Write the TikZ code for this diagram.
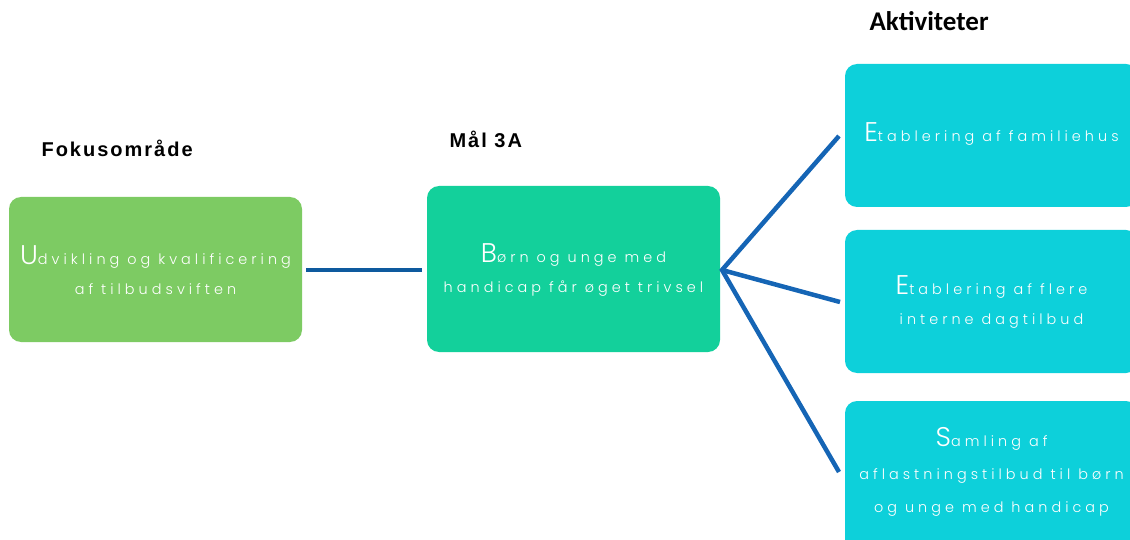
\documentclass[tikz,border=0pt]{standalone}
\usepackage{fontspec}
\setmainfont{Liberation Sans}
\newfontfamily\boxfont{Poppins Light}[LetterSpace=28]
\newfontfamily\headfont{Liberation Sans}[LetterSpace=10]
\newfontfamily\calfont{Carlito}
\definecolor{greenbox}{HTML}{7DCB63}
\definecolor{midbox}{HTML}{13D09B}
\definecolor{cyanbox}{HTML}{0DD0DA}
\definecolor{linecol}{HTML}{1565B5}
\definecolor{linedark}{HTML}{0E5A9E}
\newcommand{\bigfirst}[1]{{\fontsize{27}{27}\selectfont #1}}
\tikzset{
  box/.style={rounded corners=12pt, inner sep=0pt},
  boxtext/.style={text=white, align=center, font=\boxfont\fontsize{14.4}{30}\selectfont},
  head/.style={anchor=base west, font=\headfont\bfseries\fontsize{20}{22}\selectfont},
  conn/.style={line width=4.5pt, color=linecol},
}
\begin{document}
\begin{tikzpicture}[x=1pt,y=-1pt]
\useasboundingbox (0,0) rectangle (1130,540);
\clip (0,0) rectangle (1130,540);
% boxes
\fill[greenbox, box] (9,197) rectangle (302,342);
\fill[midbox, box] (427,186) rectangle (720,352);
\fill[cyanbox, box] (845,64) rectangle (1138,207);
\fill[cyanbox, box] (845,230) rectangle (1138,373);
\fill[cyanbox, box] (845,401) rectangle (1138,552);
% box texts
\node[boxtext] (foc) at (155.5,270) {\bigfirst{U}dvikling og kvalificering\\af tilbudsviften};
\node[boxtext] (mal) at (573.5,270) {\bigfirst{B}ørn og unge med\\handicap får øget trivsel};
\node[boxtext] (a1) at (991.5,134) {\bigfirst{E}tablering af familiehus};
\node[boxtext] (a2) at (991.5,302) {\bigfirst{E}tablering af flere\\interne dagtilbud};
\node[boxtext, font=\boxfont\fontsize{14.4}{33}\selectfont] (a3) at (991.5,472) {\bigfirst{S}amling af\\aflastningstilbud til børn\\og unge med handicap};
% headings
\node[head] (h1) at (38,157) {Fokusområde};
\node[head] (h2) at (446,148) {Mål 3A};
\node[anchor=base west, font=\calfont\bfseries\fontsize{27}{30}\selectfont] (h3) at (866,31) {Aktiviteter};
% connectors
\coordinate (l1) at (306,270);
\coordinate (l2) at (422,270);
\coordinate (apex) at (722,270);
\coordinate (e1) at (839,136);
\coordinate (e2) at (840,302);
\coordinate (e3) at (839,472);
\draw[conn, color=linedark] (l1) -- (l2);
\draw[conn] (e1) -- (apex) -- (e3);
\draw[conn] (apex) -- (e2);
\end{tikzpicture}
\end{document}
